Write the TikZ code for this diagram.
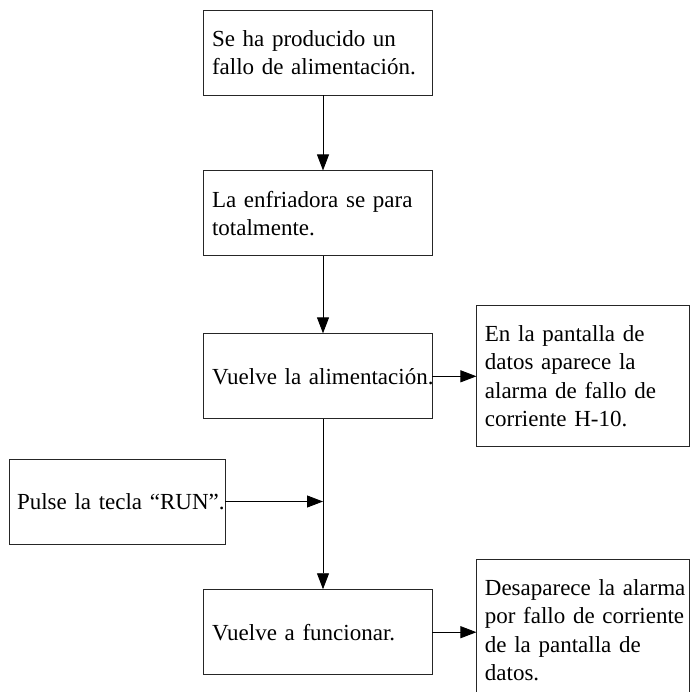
\documentclass[tikz,border=0pt]{standalone}
\usepackage{fontspec}
\setmainfont{Liberation Serif}
\usetikzlibrary{arrows.meta,positioning,calc}

\begin{document}
\begin{tikzpicture}[
    x=1pt, y=-1pt,
    node distance=75pt,
    caja/.style={rectangle, draw=black!85, line width=0.9pt, text width=211pt, minimum height=85pt, inner xsep=9pt, inner ysep=0pt, align=left, font=\fontsize{23}{28.5}\selectfont},
    aviso/.style={caja, text width=197pt, inner xsep=8pt, minimum height=141pt},
    flecha/.style={-{Triangle[length=16pt, width=12pt]}, line width=0.9pt},
]
    \useasboundingbox (0,0) rectangle (691,692);

    % Secuencia principal
    \node[caja] (fallo) at (317.5,52.5) {Se ha producido un\\fallo de alimentación.};
    \node[caja, below=75pt of fallo] (enfria) {La enfriadora se para\\totalmente.};
    \node[caja, below=77pt of enfria] (vuelve) {\mbox{Vuelve la alimentación.}};
    \node[caja, below=170pt of vuelve] (funciona) {Vuelve a funcionar.};

    % Avisos en pantalla
    \node[aviso, right=44pt of vuelve] (alarma) {\mbox{En la pantalla de}\\\mbox{datos aparece la}\\\mbox{alarma de fallo de}\\\mbox{corriente H-10.}};
    \node[aviso, right=44pt of funciona, yshift=2pt] (desaparece) {\mbox{Desaparece la alarma}\\\mbox{por fallo de corriente}\\\mbox{de la pantalla de}\\\mbox{datos.}};

    % Tecla RUN
    \node[caja, text width=200pt, inner xsep=8pt] (pulse) at (117,501.5) {\mbox{Pulse la tecla “RUN”.}};

    % Flechas
    \coordinate (eje) at ([xshift=5.5pt]vuelve.south);
    \coordinate (cruce) at (eje |- pulse.east);
    \draw[flecha] ([xshift=5.5pt]fallo.south) -- ([xshift=5.5pt]enfria.north);
    \draw[flecha] ([xshift=5.5pt]enfria.south) -- ([xshift=5.5pt]vuelve.north);
    \draw[flecha] (eje) -- ([xshift=5.5pt]funciona.north);
    \draw[flecha] (pulse.east) -- (cruce);
    \draw[flecha] (vuelve.east) -- (alarma.west);
    \draw[flecha] (funciona.east) -- (funciona.east -| desaparece.west);
\end{tikzpicture}
\end{document}
